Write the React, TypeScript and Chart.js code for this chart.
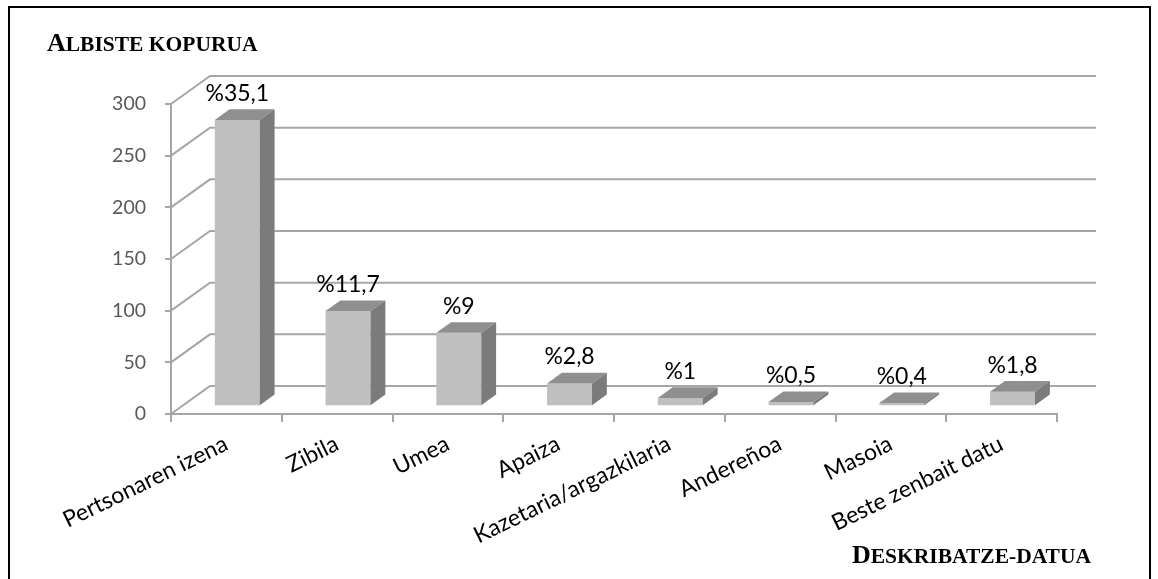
import React, { useEffect, useRef } from 'react';
import { Chart, registerables } from 'chart.js';

Chart.register(...registerables);

// ---- data ----
const categories = [
  'Pertsonaren izena',
  'Zibila',
  'Umea',
  'Apaiza',
  'Kazetaria/argazkilaria',
  'Andereñoa',
  'Masoia',
  'Beste zenbait datu',
];
const counts = [277, 92, 71, 22, 8, 4, 3, 14];
const percentLabels = ['%35,1', '%11,7', '%9', '%2,8', '%1', '%0,5', '%0,4', '%1,8'];
const yMin = 0;
const yMax = 300;
const yStep = 50;
const yTitleParts = ['A', 'LBISTE KOPURUA'];
const xTitleParts = ['D', 'ESKRIBATZE-DATUA'];

// ---- style constants ----
const W = 1158;
const H = 579;
const DEPTH_DX = 39;
const DEPTH_DY = 28;
const BAR_FRONT = 0.28;
const BAR_BACK = 0.66;
const GRID = '#a6a6a6';
const FRONT = '#bfbfbf';
const TOP = '#8f8f8f';
const SIDE = '#7b7b7b';
const SANS = 'Lato, "Open Sans", sans-serif';
const SERIF = '"Liberation Serif", "Times New Roman", serif';

function drawSmallCaps(ctx: CanvasRenderingContext2D, parts: string[], x: number, baseline: number) {
  ctx.fillStyle = '#000';
  ctx.textAlign = 'left';
  ctx.textBaseline = 'alphabetic';
  ctx.font = `bold 26px ${SERIF}`;
  ctx.fillText(parts[0], x, baseline);
  const w = ctx.measureText(parts[0]).width;
  ctx.font = `bold 21.5px ${SERIF}`;
  ctx.fillText(parts[1], x + w, baseline);
}

const threeDPlugin = {
  id: 'threeD',
  beforeDraw(chart: any) {
    const { ctx } = chart;
    ctx.save();
    ctx.fillStyle = '#fff';
    ctx.fillRect(0, 0, W, H);
    ctx.strokeStyle = '#000';
    ctx.lineWidth = 2;
    ctx.strokeRect(9, 7, 1141, 600);
    drawSmallCaps(ctx, yTitleParts, 47, 51);
    drawSmallCaps(ctx, xTitleParts, 852, 563);
    ctx.restore();
  },
  beforeDatasetsDraw(chart: any) {
    const { ctx, scales } = chart;
    const x = scales.x;
    const y = scales.y;
    ctx.save();
    ctx.strokeStyle = GRID;
    ctx.lineWidth = 2;
    y.ticks.forEach((t: any) => {
      const py = y.getPixelForValue(t.value);
      ctx.beginPath();
      ctx.moveTo(x.left, py);
      ctx.lineTo(x.left + DEPTH_DX, py - DEPTH_DY);
      ctx.lineTo(x.right + DEPTH_DX, py - DEPTH_DY);
      ctx.stroke();
    });
    ctx.restore();
    ctx.save();
    ctx.translate(DEPTH_DX * BAR_FRONT, -DEPTH_DY * BAR_FRONT);
  },
  afterDatasetsDraw(chart: any) {
    const { ctx } = chart;
    const meta = chart.getDatasetMeta(0);
    const ddx = DEPTH_DX * (BAR_BACK - BAR_FRONT);
    const ddy = DEPTH_DY * (BAR_BACK - BAR_FRONT);
    meta.data.forEach((bar: any, i: number) => {
      const p = bar.getProps(['x', 'y', 'base', 'width'], true);
      const l = p.x - p.width / 2;
      const r = p.x + p.width / 2;
      const top = p.y;
      const base = p.base;
      ctx.fillStyle = TOP;
      ctx.beginPath();
      ctx.moveTo(l, top);
      ctx.lineTo(r, top);
      ctx.lineTo(r + ddx, top - ddy);
      ctx.lineTo(l + ddx, top - ddy);
      ctx.closePath();
      ctx.fill();
      ctx.fillStyle = SIDE;
      ctx.beginPath();
      ctx.moveTo(r, top);
      ctx.lineTo(r + ddx, top - ddy);
      ctx.lineTo(r + ddx, base - ddy);
      ctx.lineTo(r, base);
      ctx.closePath();
      ctx.fill();
      ctx.fillStyle = '#000';
      ctx.font = `23px ${SANS}`;
      ctx.textAlign = 'center';
      ctx.textBaseline = 'alphabetic';
      ctx.fillText(percentLabels[i], p.x, top - 19);
    });
    ctx.restore();
  },
};

export default function App() {
  const ref = useRef<HTMLCanvasElement | null>(null);

  useEffect(() => {
    if (!ref.current) return;
    const chart = new Chart(ref.current, {
      type: 'bar',
      data: {
        labels: categories,
        datasets: [
          {
            data: counts,
            backgroundColor: FRONT,
            borderWidth: 0,
            barPercentage: 0.406,
            categoryPercentage: 1,
            clip: false as any,
          },
        ],
      },
      options: {
        responsive: false,
        devicePixelRatio: 1,
        animation: false,
        layout: { padding: { left: 0, top: 104, right: 101, bottom: 0 } },
        plugins: {
          legend: { display: false },
          tooltip: { enabled: false },
          title: { display: false },
        },
        scales: {
          x: {
            grid: {
              display: true,
              drawOnChartArea: false,
              drawTicks: true,
              tickLength: 8,
              color: GRID,
              lineWidth: 2,
              offset: true,
            },
            border: { display: true, color: GRID, width: 2 },
            ticks: {
              autoSkip: false,
              minRotation: 26,
              maxRotation: 26,
              padding: 8,
              color: '#000',
              font: { family: SANS, size: 23 },
            },
            afterFit: (s: any) => {
              s.height = H - 414;
            },
          },
          y: {
            min: yMin,
            max: yMax,
            grid: {
              display: true,
              drawOnChartArea: false,
              drawTicks: true,
              tickLength: 6,
              color: GRID,
              lineWidth: 2,
            },
            border: { display: true, color: GRID, width: 2 },
            ticks: {
              stepSize: yStep,
              padding: 19,
              color: '#595959',
              font: { family: SANS, size: 19.5 },
            },
            afterFit: (s: any) => {
              s.width = 171;
            },
          },
        },
      },
      plugins: [threeDPlugin],
    });
    return () => chart.destroy();
  }, []);

  return (
    <div style={{ position: 'fixed', left: 0, top: 0, width: W, height: H, background: '#fff' }}>
      <canvas ref={ref} width={W} height={H} style={{ display: 'block', width: W, height: H }} />
    </div>
  );
}
